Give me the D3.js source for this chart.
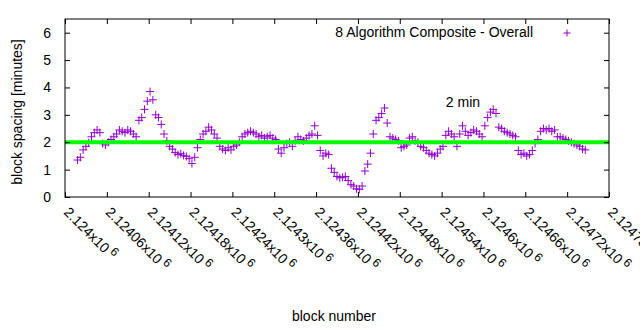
<!DOCTYPE html>
<html>
<head>
<meta charset="utf-8">
<script src="https://cdn.jsdelivr.net/npm/d3@7"></script>
<style>
  body { margin: 0; background: #fff; }
  text { font-family: "Liberation Sans", Arial, sans-serif; fill: #000; }
</style>
</head>
<body>
<div id="chart-area"></div>
<script>
// SVG Size
var width = 640,
	height = 330;

var margin = { top: 19, right: 31, bottom: 133, left: 65 };

// first block and sampling step of the series
var firstBlock = 2124018,
	blockStep = 4;

// block spacing in minutes
var spacing = [
	1.35, 1.45, 1.72, 1.85, 1.98, 2.2, 2.35, 2.45, 2.35, 1.95,
	1.9, 2.0, 2.1, 2.2, 2.3, 2.45, 2.4, 2.35, 2.45, 2.4,
	2.3, 2.2, 2.8, 2.9, 3.2, 3.5, 3.85, 3.55, 3.0, 2.9,
	2.65, 2.3, 2.05, 1.85, 1.75, 1.62, 1.55, 1.58, 1.52, 1.48,
	1.4, 1.22, 1.45, 1.8, 2.1, 2.3, 2.4, 2.55, 2.45, 2.3,
	2.15, 1.85, 1.75, 1.7, 1.8, 1.72, 1.85, 1.9, 2.0, 2.2,
	2.3, 2.35, 2.4, 2.35, 2.3, 2.2, 2.25, 2.15, 2.2, 2.25,
	2.15, 2.1, 1.75, 1.6, 1.8, 1.95, 2.0, 1.85, 2.05, 2.2,
	2.1, 2.05, 2.15, 2.25, 2.3, 2.6, 2.25, 1.7, 1.5, 1.6,
	1.55, 1.05, 0.9, 0.75, 0.7, 0.72, 0.75, 0.6, 0.45, 0.4,
	0.3, 0.28, 0.4, 0.95, 1.2, 1.6, 2.3, 2.8, 2.9, 3.05,
	3.25, 2.7, 2.2, 2.15, 2.1, 2.05, 1.8, 1.85, 1.9, 2.15,
	2.2, 2.05, 2.0, 1.85, 1.8, 1.7, 1.6, 1.55, 1.5, 1.6,
	1.75, 1.85, 2.25, 2.4, 2.3, 2.2, 1.85, 2.3, 2.6, 2.4,
	2.25, 2.35, 2.45, 2.4, 2.3, 2.2, 2.6, 2.9, 3.1, 3.2,
	3.05, 2.55, 2.5, 2.4, 2.35, 2.3, 2.25, 2.2, 1.7, 1.55,
	1.6, 1.5, 1.55, 1.7, 1.95, 2.1, 2.4, 2.5, 2.45, 2.5,
	2.4, 2.45, 2.2, 2.2, 2.15, 2.1, 2.05, 2.0, 1.95, 1.9,
	1.85, 1.75, 1.72
];

// x ticks and their labels
var xTicks = [2124000, 2124060, 2124120, 2124180, 2124240, 2124300, 2124360,
	2124420, 2124480, 2124540, 2124600, 2124660, 2124720, 2124780];
var xTickLabels = ["2.124", "2.12406", "2.12412", "2.12418", "2.12424", "2.1243", "2.12436",
	"2.12442", "2.12448", "2.12454", "2.1246", "2.12466", "2.12472", "2.12478"];
var yTicks = [0, 1, 2, 3, 4, 5, 6];

var targetMinutes = 2;
var seriesName = "8 Algorithm Composite - Overall";

var data = spacing.map(function(v, i) {
	return { block: firstBlock + i * blockStep, minutes: v };
});

var plotW = width - margin.left - margin.right,
	plotH = height - margin.top - margin.bottom;

var svg = d3.select("#chart-area")
	.append("svg")
	.attr("width", width)
	.attr("height", height);

var g = svg.append("g")
	.attr("transform", "translate(" + margin.left + "," + margin.top + ")");

var blockScale = d3.scaleLinear()
	.domain([2124000, 2124780])
	.range([0, plotW]);

var minutesScale = d3.scaleLinear()
	.domain([0, 6.5])
	.range([plotH, 0]);

var purple = "#9400d3";

// points as "+" markers
g.selectAll("path.pt")
	.data(data)
	.enter()
	.append("path")
	.attr("class", "pt")
	.attr("d", function(d) {
		var x = blockScale(d.block), y = minutesScale(d.minutes);
		return "M" + (x - 4) + "," + y + "H" + (x + 4) + "M" + x + "," + (y - 4) + "V" + (y + 4);
	})
	.attr("stroke", purple)
	.attr("stroke-width", 1)
	.attr("fill", "none");

// 2 minute line
g.append("line")
	.attr("x1", blockScale(2124000))
	.attr("x2", blockScale(2124780))
	.attr("y1", minutesScale(targetMinutes))
	.attr("y2", minutesScale(targetMinutes))
	.attr("stroke", "#00ff00")
	.attr("stroke-width", 4);

// axes with inward ticks
var xAxis = d3.axisBottom(blockScale).tickValues(xTicks).tickSize(-5).tickFormat("");
var xAxisTop = d3.axisTop(blockScale).tickValues(xTicks).tickSize(-5).tickFormat("");
var yAxis = d3.axisLeft(minutesScale).tickValues(yTicks).tickSize(-5).tickPadding(14)
	.tickFormat(d3.format("d"));
var yAxisRight = d3.axisRight(minutesScale).tickValues(yTicks).tickSize(-5).tickFormat("");

var axes = [
	g.append("g").attr("transform", "translate(0," + plotH + ")").call(xAxis),
	g.append("g").call(xAxisTop),
	g.append("g").call(yAxis),
	g.append("g").attr("transform", "translate(" + plotW + ",0)").call(yAxisRight)
];
axes.forEach(function(a) {
	a.select(".domain").remove();
	a.selectAll("line").attr("stroke", "#000");
});
axes[2].selectAll("text")
	.style("font-size", "14px")
	.style("font-family", "'Liberation Sans', Arial, sans-serif")
	.attr("fill", "#000");

g.append("rect")
	.attr("width", plotW)
	.attr("height", plotH)
	.attr("fill", "none")
	.attr("stroke", "#000")
	.attr("stroke-width", 1);

// rotated x tick labels like "2.124x10^6"
var xl = g.append("g")
	.selectAll("text")
	.data(xTicks)
	.enter()
	.append("text")
	.attr("transform", function(d) {
		return "translate(" + (blockScale(d) - 2) + "," + (plotH + 16) + ") rotate(45)";
	})
	.style("font-size", "14px");
xl.append("tspan").text(function(d, i) { return xTickLabels[i] + "x10"; });
xl.append("tspan").attr("dx", 3).attr("dy", -5).style("font-size", "12px").text("6");

// axis titles
svg.append("text")
	.attr("transform", "translate(22," + (margin.top + plotH / 2 + 4) + ") rotate(-90)")
	.attr("text-anchor", "middle")
	.style("font-size", "14px")
	.text("block spacing [minutes]");

svg.append("text")
	.attr("x", margin.left + plotW / 2 - 3)
	.attr("y", 321)
	.attr("text-anchor", "middle")
	.style("font-size", "14px")
	.text("block number");

// label of the 2 min line
g.append("text")
	.attr("x", blockScale(2124546))
	.attr("y", minutesScale(3.3))
	.style("font-size", "14px")
	.text("2 min");

// key
g.append("text")
	.attr("x", 533 - margin.left)
	.attr("y", 37 - margin.top)
	.attr("text-anchor", "end")
	.style("font-size", "14px")
	.text(seriesName);
g.append("path")
	.attr("d", "M" + (567 - margin.left - 3.5) + "," + (33 - margin.top) + "h7M" + (567 - margin.left) + "," + (33 - margin.top - 3.5) + "v7")
	.attr("stroke", purple)
	.attr("fill", "none");
</script>
</body>
</html>
